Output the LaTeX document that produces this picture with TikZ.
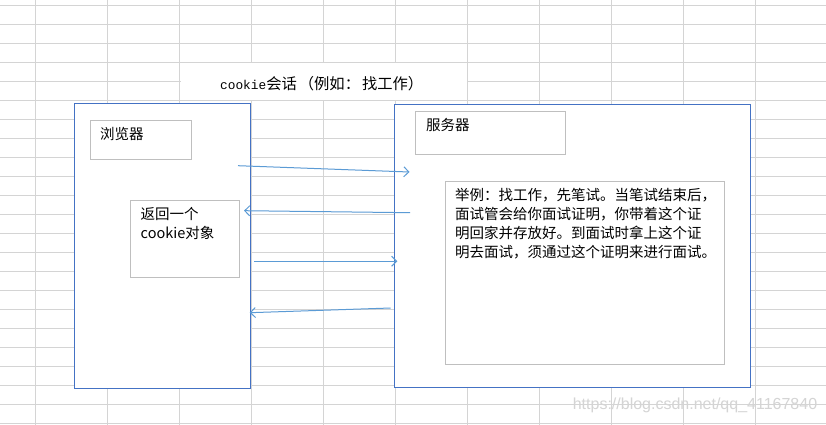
\documentclass[tikz,border=0pt]{standalone}
\usepackage{fontspec}
\setmainfont{Noto Sans CJK SC}
\newfontfamily\titlemono{Liberation Mono}
\newfontfamily\marksans{Liberation Sans}
\usetikzlibrary{arrows.meta}
\definecolor{gridgray}{RGB}{212,212,212}
\definecolor{boxblue}{RGB}{68,114,196}
\definecolor{boxgray}{RGB}{191,191,191}
\definecolor{arrowblue}{RGB}{91,155,213}
\definecolor{markgray}{RGB}{212,212,212}
\begin{document}
\begin{tikzpicture}[x=1pt, y=-1pt, font=\fontsize{14.5}{19}\selectfont,
  gridline/.style={draw=gridgray, line width=1pt},
  mainbox/.style={draw=boxblue, line width=1pt, fill=white, inner sep=0pt},
  subbox/.style={draw=boxgray, line width=1pt, fill=white, inner sep=0pt},
  txt/.style={anchor=west, inner sep=0pt, align=left},
  msg/.style={-{Straight Barb[length=5pt, width=10pt]}, draw=arrowblue, line width=1pt}]
  \fill[white] (0,0) rectangle (826,425);
  \useasboundingbox (0,0) rectangle (826,425);
  % sheet grid
  \foreach \k in {0,...,22}
    \draw[gridline] (0,{5.3+19*\k}) -- (826,{5.3+19*\k});
  \foreach \k in {0,...,10}
    \draw[gridline] ({35.7+72*\k},0) -- ({35.7+72*\k},425);
  % merged title cell
  \node[fill=white, inner sep=0pt, minimum width=286pt, minimum height=37pt] (titlecell) at (323.7,81.3) {};
  \node[txt, font=\fontsize{15.3}{19}\selectfont] (title) at (220,84) {{\titlemono\fontsize{12.8}{19}\selectfont cookie}会话\hspace{2pt}（例如：\hspace{2pt}找工作）};
  % browser side
  \node[mainbox, minimum width=176pt, minimum height=285pt] (browser) at (162.3,245.8) {};
  \node[subbox, minimum width=101.4pt, minimum height=39pt] (bname) at (141,139.8) {};
  \node[subbox, minimum width=109.7pt, minimum height=77pt] (cookiebox) at (184.85,238.8) {};
  \node[txt] (bnametxt) at (100,134) {浏览器};
  \node[txt] (cookietxt) at (140.5,223.3) {返回一个\\cookie对象};
  % server side
  \node[mainbox, minimum width=356.4pt, minimum height=283pt] (server) at (572.5,245.8) {};
  \node[subbox, minimum width=150.4pt, minimum height=43pt] (sname) at (490.5,132.8) {};
  \node[subbox, minimum width=279pt, minimum height=182.7pt] (example) at (584.8,272.65) {};
  \node[txt] (snametxt) at (426,125) {服务器};
  \node[txt] (exampletxt) at (455,223.5) {举例：找工作，先笔试。当笔试结束后，\\面试管会给你面试证明，你带着这个证\\明回家并存放好。到面试时拿上这个证\\明去面试，须通过这个证明来进行面试。};
  % request / response arrows
  \coordinate (req1) at (238,165.7);
  \coordinate (req1e) at (409.5,172);
  \coordinate (res1) at (410,212.7);
  \coordinate (res1e) at (244,210.7);
  \coordinate (req2) at (254,261.3);
  \coordinate (req2e) at (397.3,261.3);
  \coordinate (res2) at (390.7,308);
  \coordinate (res2e) at (249.7,312.7);
  \draw[msg] (req1) -- (req1e);
  \draw[msg] (res1) -- (res1e);
  \draw[msg] (req2) -- (req2e);
  \draw[msg] (res2) -- (res2e);
  \node[txt, anchor=center, font=\marksans\fontsize{16}{16}\selectfont, text=markgray] (mark) at (695,405) {https://blog.csdn.net/qq\_41167840};
\end{tikzpicture}
\end{document}
